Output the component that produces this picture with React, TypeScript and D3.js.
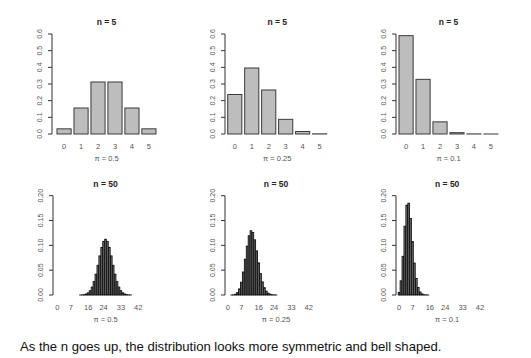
import React from "react";
import * as d3 from "d3";

// binomial probabilities
const small = ["0", "1", "2", "3", "4", "5"];
const n5p50 = [0.031, 0.156, 0.312, 0.312, 0.156, 0.031];
const n5p25 = [0.237, 0.396, 0.264, 0.088, 0.015, 0.001];
const n5p10 = [0.590, 0.328, 0.073, 0.008, 0.0005, 0.0001];

const big = d3.range(51).map(String);
const bigLabels = ["0", "7", "16", "24", "33", "42"];
const n50p50 = [
  0, 0, 0, 0, 0, 0, 0, 0, 0, 0, 0, 0,
  0.0001, 0.0003, 0.0008, 0.0020, 0.0044, 0.0087, 0.0160, 0.0270, 0.0419, 0.0598,
  0.0788, 0.0960, 0.1080, 0.1123, 0.1080, 0.0960, 0.0788, 0.0598, 0.0419, 0.0270,
  0.0160, 0.0087, 0.0044, 0.0020, 0.0008, 0.0003, 0.0001,
  0, 0, 0, 0, 0, 0, 0, 0, 0, 0, 0, 0,
];
const n50p25 = [
  0, 0,
  0.0001, 0.0004, 0.0016, 0.0049, 0.0123, 0.0258, 0.0463, 0.0721, 0.0985, 0.1194,
  0.1294, 0.1261, 0.1111, 0.0889, 0.0648, 0.0432, 0.0264, 0.0148, 0.0077, 0.0036,
  0.0016, 0.0006, 0.0002, 0.0001,
  0, 0, 0, 0, 0, 0, 0, 0, 0, 0, 0, 0, 0, 0, 0, 0, 0, 0, 0, 0, 0, 0, 0, 0, 0,
];
const n50p10 = [
  0.0052, 0.0286, 0.0779, 0.1386, 0.1809, 0.1849, 0.1541, 0.1076, 0.0643, 0.0333,
  0.0152, 0.0061, 0.0022, 0.0007, 0.0002, 0.0001,
  0, 0, 0, 0, 0, 0, 0, 0, 0, 0, 0, 0, 0, 0, 0, 0, 0, 0,
  0, 0, 0, 0, 0, 0, 0, 0, 0, 0, 0, 0, 0, 0, 0, 0, 0,
];

const topTicks = [0, 0.1, 0.2, 0.3, 0.4, 0.5, 0.6];
const bottomTicks = [0, 0.05, 0.1, 0.15, 0.2];

const font = "'Liberation Sans', Arial, sans-serif";

type PanelProps = {
  values: number[];
  cats: string[];
  shown: string[];
  title: string;
  sub: string;
  axisX: number;
  barX: number;
  barW: number;
  base: number;
  top: number;
  ticks: number[];
  fmt: string;
  thin?: boolean;
};

function Panel(p: PanelProps) {
  const x = d3.scaleBand().domain(p.cats).range([p.barX, p.barX + p.barW])
    .paddingInner(0.2 / 1.2).paddingOuter(0);
  const y = d3.scaleLinear().domain([0, p.ticks[p.ticks.length - 1]]).range([p.base, p.top]);
  const f = d3.format(p.fmt);
  const mid = p.barX + p.barW / 2;
  return (
    <g>
      <text x={mid} y={p.top - 9} textAnchor="middle" fontSize={8.5} fontWeight="bold" fill="#222">{p.title}</text>
      <line x1={p.axisX} x2={p.axisX} y1={y(0)} y2={y(p.ticks[p.ticks.length - 1])} stroke="#333" />
      {p.ticks.map((t) => (
        <g key={t}>
          <line x1={p.axisX - 4} x2={p.axisX} y1={y(t)} y2={y(t)} stroke="#333" />
          <text transform={`translate(${p.axisX - 10},${y(t)}) rotate(-90)`} textAnchor="middle"
            fontSize={7} fill="#555">{f(t)}</text>
        </g>
      ))}
      {p.values.map((v, i) => (
        <rect key={i} x={x(p.cats[i])} width={x.bandwidth()} y={y(v)} height={p.base - y(v)}
          fill={p.thin ? "#777" : "#bdbdbd"} stroke={p.thin ? "#111" : "#3a3a3a"} strokeWidth={p.thin ? 0.9 : 1} />
      ))}
      {p.shown.map((c) => (
        <text key={c} x={(x(c) as number) + x.bandwidth() / 2} y={p.base + 15} textAnchor="middle"
          fontSize={7.5} fill="#555">{c}</text>
      ))}
      <text x={mid} y={p.base + 27} textAnchor="middle" fontSize={7.5} fill="#555">{p.sub}</text>
    </g>
  );
}

export default function App() {
  const topRow = { cats: small, shown: small, base: 134, top: 34, ticks: topTicks, fmt: ".1f", barW: 99 };
  const botRow = { cats: big, shown: bigLabels, base: 295, top: 195.7, ticks: bottomTicks, fmt: ".2f", barW: 98, thin: true };
  return (
    <svg width={531} height={358} style={{ position: "absolute", left: 0, top: 0, fontFamily: font }}>
      <rect width={531} height={358} fill="#fff" />
      <Panel {...topRow} values={n5p50} title="n = 5" sub="π = 0.5" axisX={52} barX={57} />
      <Panel {...topRow} values={n5p25} title="n = 5" sub="π = 0.25" axisX={225} barX={227.7} />
      <Panel {...topRow} values={n5p10} title="n = 5" sub="π = 0.1" axisX={396} barX={399} />
      <Panel {...botRow} values={n50p50} title="n = 50" sub="π = 0.5" axisX={53} barX={56.5} />
      <Panel {...botRow} values={n50p25} title="n = 50" sub="π = 0.25" axisX={225} barX={227} />
      <Panel {...botRow} values={n50p10} title="n = 50" sub="π = 0.1" axisX={396} barX={398.2} />
      <text x={20} y={351} fontSize={13.1} fill="#111">
        As the n goes up, the distribution looks more symmetric and bell shaped.
      </text>
    </svg>
  );
}
